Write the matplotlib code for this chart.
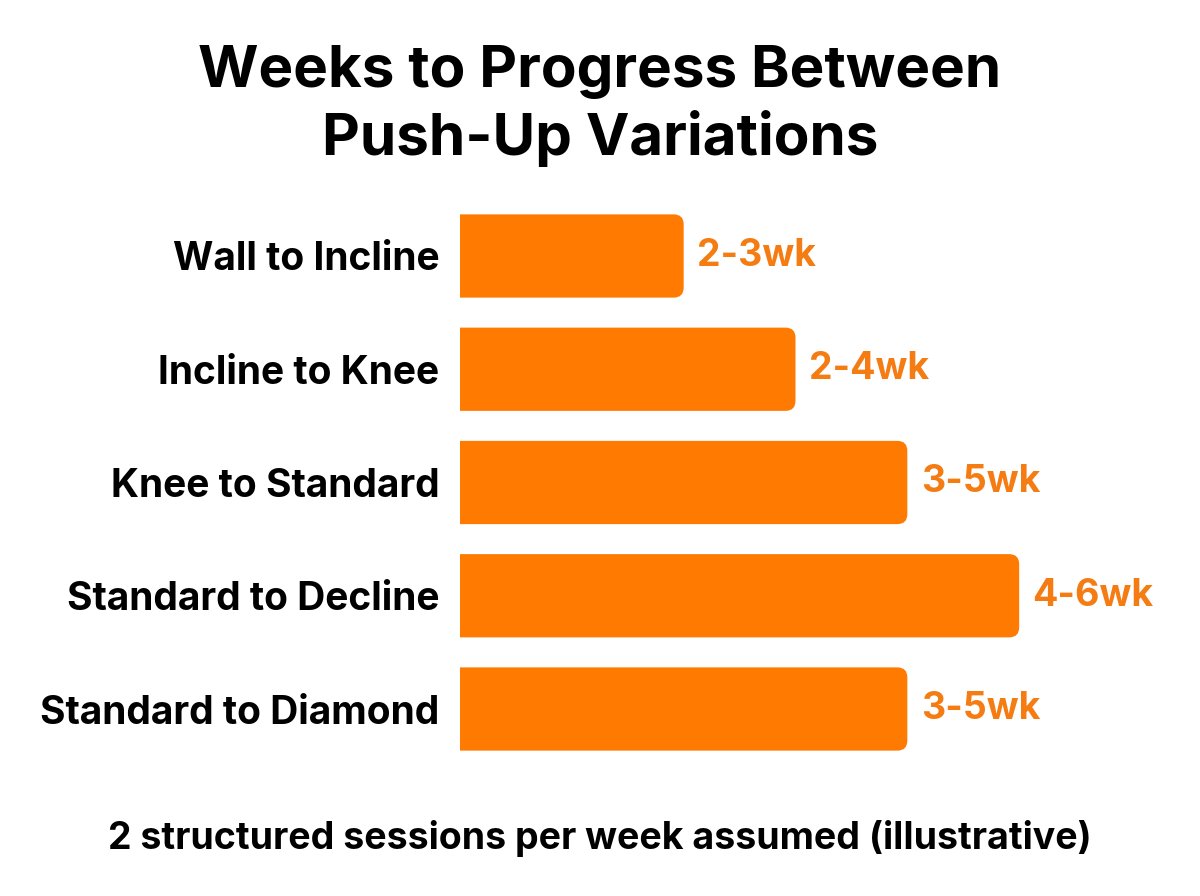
import matplotlib.pyplot as plt
from matplotlib.path import Path
from matplotlib.patches import PathPatch

plt.rcParams['font.family'] = ['Inter', 'DejaVu Sans']

# data
steps = ['Wall to Incline', 'Incline to Knee', 'Knee to Standard',
         'Standard to Decline', 'Standard to Diamond']
low_wk = [2, 2, 3, 4, 3]
high_wk = [3, 4, 5, 6, 5]
range_labels = ['%d-%dwk' % (a, b) for a, b in zip(low_wk, high_wk)]

bar_col = '#FF7A00'
txt_col = '#F57C12'
base = 1

fig = plt.figure(figsize=(12, 8.96), dpi=100)
ax = fig.add_axes([460/1200, 0.1455, 671/1200, 0.632])

ypos = list(range(len(steps)))
bars = ax.barh(ypos, [h - base for h in high_wk], left=base, height=0.735, color=bar_col)

# round only the right end of each bar (~10 px radius)
rx, ry = 10/111.8, 10/113.25
for b, lab in zip(bars, range_labels):
    x, y = b.get_x(), b.get_y()
    w, h = b.get_width(), b.get_height()
    b.remove()
    verts = [(x, y), (x + w - rx, y), (x + w, y), (x + w, y + ry),
             (x + w, y + h - ry), (x + w, y + h), (x + w - rx, y + h),
             (x, y + h), (x, y)]
    codes = [Path.MOVETO, Path.LINETO, Path.CURVE3, Path.CURVE3,
             Path.LINETO, Path.CURVE3, Path.CURVE3, Path.LINETO, Path.CLOSEPOLY]
    ax.add_patch(PathPatch(Path(verts, codes), fc=bar_col, ec='none'))
    ax.text(x + w + 0.12, y + h/2, lab, va='center', ha='left', fontsize=27,
            fontweight='bold', color=txt_col)

ax.set_xlim(base, 7)
ax.set_ylim(4.5, -0.5)
ax.set_yticks(ypos)
ax.set_yticklabels(steps, fontsize=28, fontweight='bold')
ax.tick_params(axis='y', length=0, pad=15)
ax.set_xticks([])
for s in ax.spines.values():
    s.set_visible(False)

fig.text(0.5, 1 - 106/896, 'Weeks to Progress Between\nPush-Up Variations', ha='center', va='center',
         fontsize=42, fontweight='bold', linespacing=1.25)
fig.text(0.5, 1 - 838/896, '2 structured sessions per week assumed (illustrative)', ha='center',
         va='center', fontsize=27, fontweight='bold')

fig.savefig('out.png', dpi=100, facecolor='white')
